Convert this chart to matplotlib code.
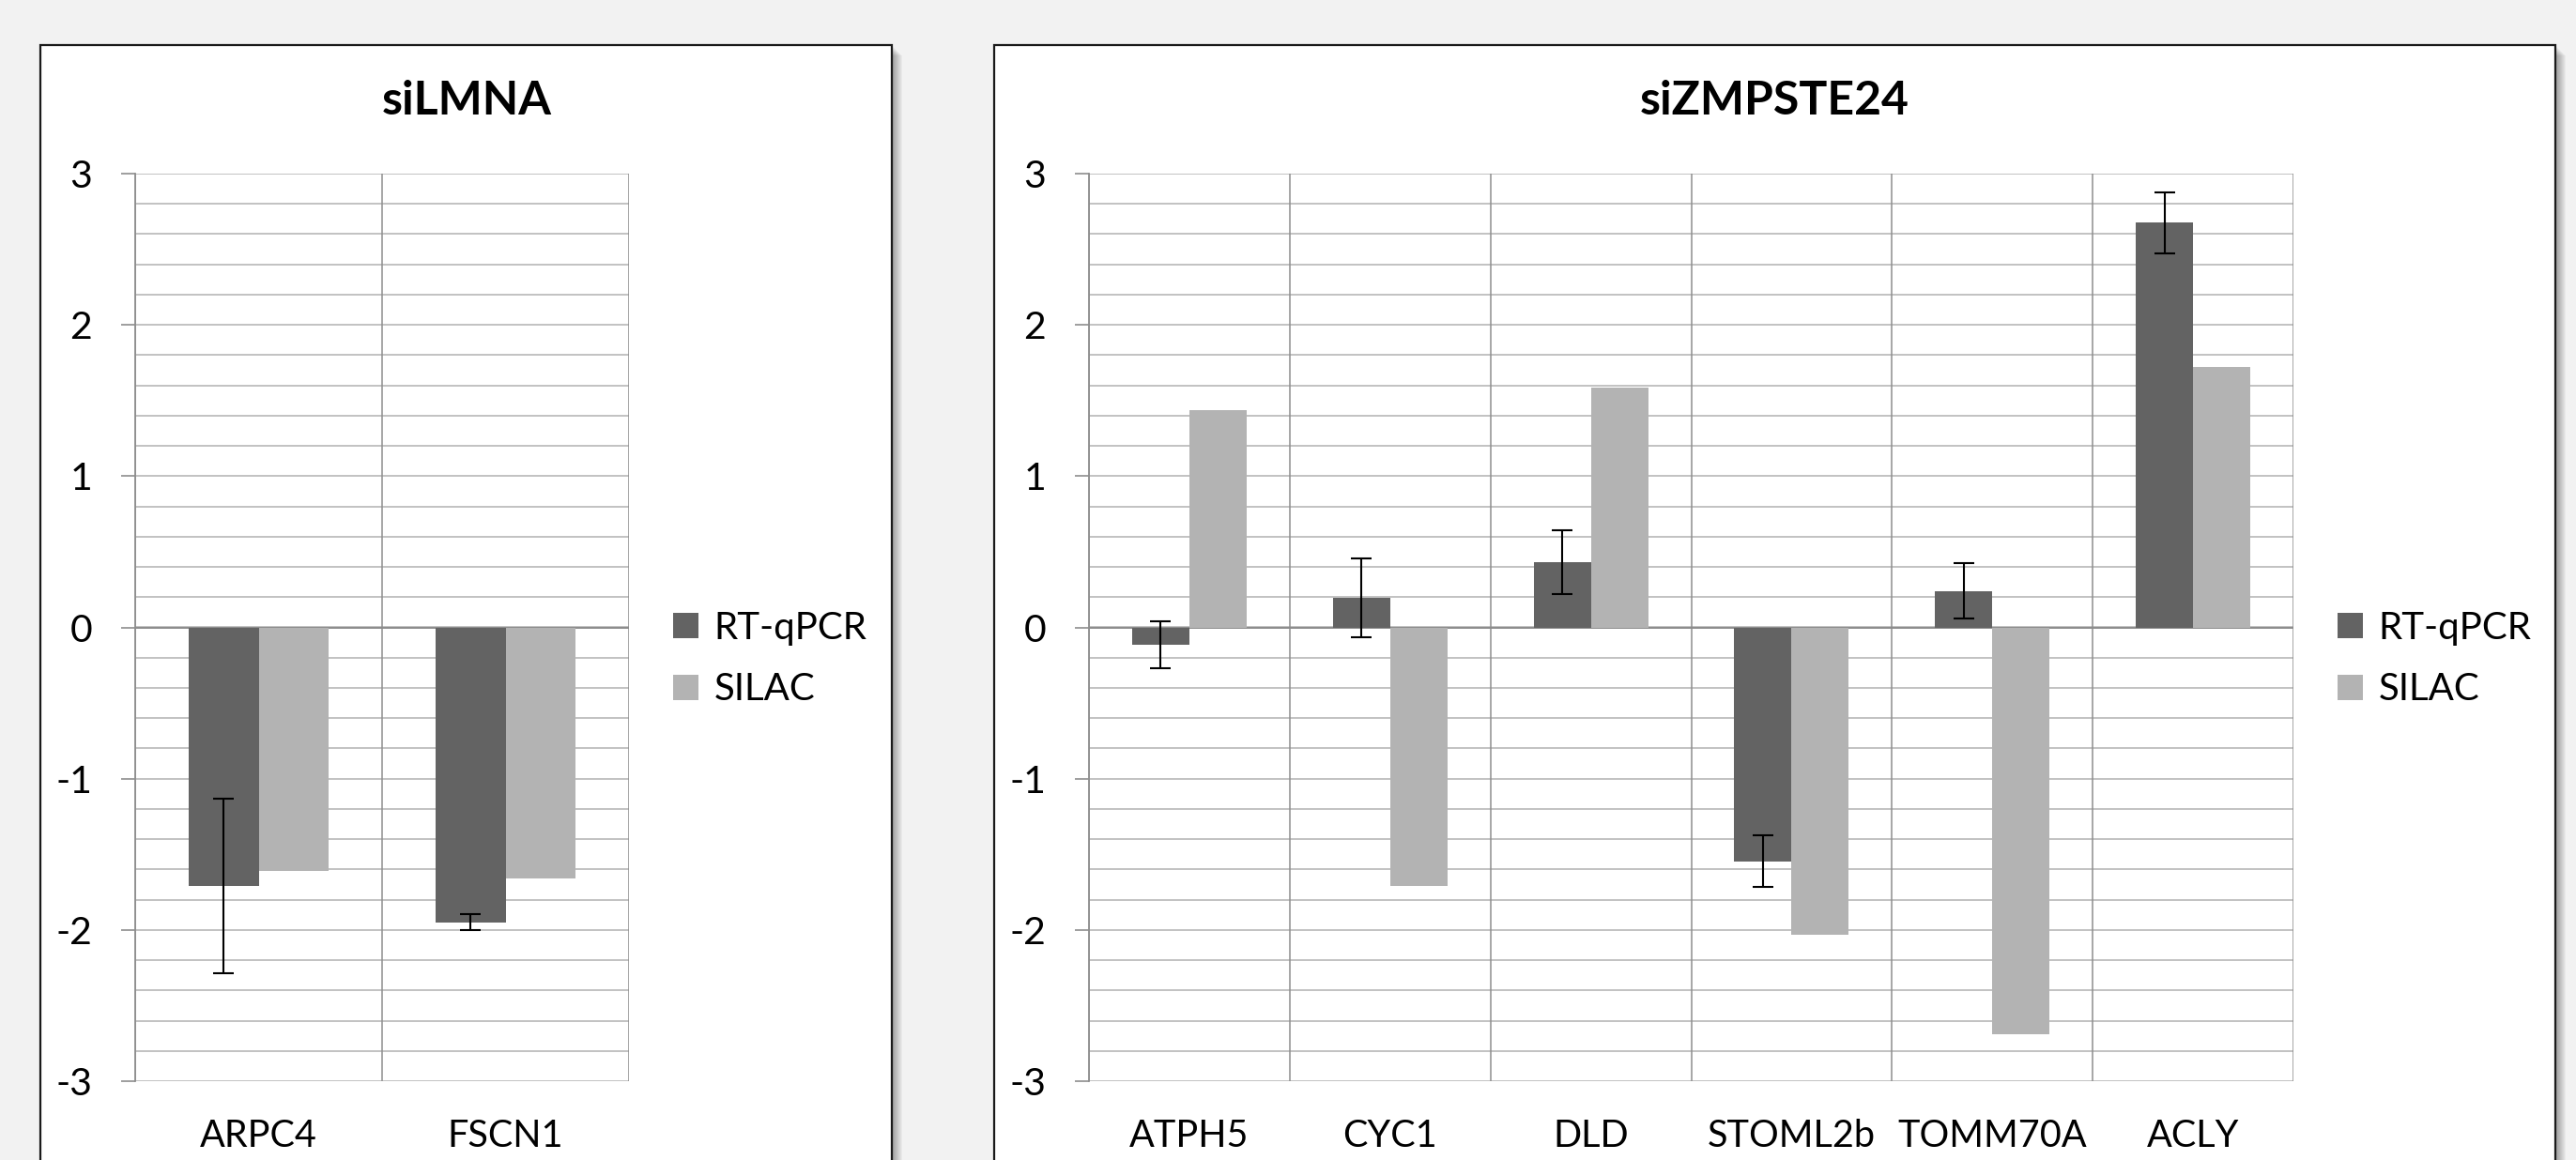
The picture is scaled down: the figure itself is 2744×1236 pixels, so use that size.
import matplotlib
matplotlib.use("Agg")
import matplotlib.pyplot as plt
from matplotlib.patches import Rectangle
import numpy as np

plt.rcParams['font.family'] = ['Lato', 'DejaVu Sans']

# dados
series = ['RT-qPCR', 'SILAC']

cat_lmna = ['ARPC4', 'FSCN1']
rtq_lmna = [-1.71, -1.95]
rtq_lmna_err = [0.575, 0.052]
silac_lmna = [-1.61, -1.66]

cat_zmp = ['ATPH5', 'CYC1', 'DLD', 'STOML2b', 'TOMM70A', 'ACLY']
rtq_zmp = [-0.115, 0.195, 0.43, -1.545, 0.24, 2.675]
rtq_zmp_err = [0.157, 0.258, 0.21, 0.172, 0.184, 0.2]
silac_zmp = [1.435, -1.71, 1.587, -2.035, -2.687, 1.723]

W, H = 2744, 1236
fig = plt.figure(figsize=(W / 100, H / 100), dpi=100)
fig.patch.set_facecolor('#F2F2F2')


def fx(p):
    return p / W


def fy(p):
    return 1 - p / H


# caixas dos paineis (com sombra)
for x0, x1 in [(43, 950), (1059, 2722)]:
    for k in range(1, 12):
        fig.patches.append(Rectangle((fx(x0 + k), fy(1300)), fx(x1 - x0), (1300 - 48 - k) / H,
                                     transform=fig.transFigure, facecolor='black',
                                     alpha=0.035, edgecolor='none', zorder=-10))
    fig.patches.append(Rectangle((fx(x0), fy(1300)), fx(x1 - x0), (1300 - 48) / H,
                                 transform=fig.transFigure, facecolor='white',
                                 edgecolor='#1a1a1a', linewidth=1.6, zorder=-5))

dark = '#636363'
light = '#B3B3B3'
w = 0.285


def painel(x_left, x_right, title, title_x, cats, rtq, err, silac):
    ax = fig.add_axes([fx(x_left), fy(1152), fx(x_right - x_left), (1152 - 185) / H])
    ax.set_facecolor('white')
    x = np.arange(len(cats))
    ax.set_xlim(-0.5, len(cats) - 0.5)
    ax.set_ylim(-3, 3)

    # grade horizontal a cada 0.2
    for v in np.arange(-3, 3.01, 0.2):
        ax.axhline(v, color='#BDBDBD', lw=1.3, zorder=0)
    # divisorias das categorias
    for v in np.arange(-0.5, len(cats), 1.0):
        ax.axvline(v, color='#8E8E8E', lw=1.1, zorder=0.5)
    ax.axhline(0, color='#8C8C8C', lw=1.4, zorder=0.6)

    ax.bar(x - w / 2, rtq, w, color=dark, label=series[0], zorder=2)
    ax.bar(x + w / 2, silac, w, color=light, label=series[1], zorder=2)
    ax.errorbar(x - w / 2, rtq, yerr=err, fmt='none', ecolor='black',
                elinewidth=1.5, capsize=8, capthick=1.5, zorder=3)

    for s in ['top', 'right', 'bottom']:
        ax.spines[s].set_visible(False)
    ax.spines['left'].set_color('#8E8E8E')
    ax.spines['left'].set_linewidth(1.3)

    ax.set_yticks([-3, -2, -1, 0, 1, 2, 3])
    ax.set_yticklabels(['-3', '-2', '-1', '0', '1', '2', '3'])
    ax.tick_params(axis='y', direction='out', length=11, width=1.2, color='#8E8E8E',
                   labelsize=29.5, pad=22)
    ax.set_xticks(x)
    ax.set_xticklabels(cats)
    ax.tick_params(axis='x', length=0, labelsize=28.5, pad=29)

    ax_w = x_right - x_left
    ax.legend(loc='center left', frameon=False, fontsize=29,
              bbox_to_anchor=((x_right + 47 - x_left) / ax_w, (1152 - 702) / 967),
              borderaxespad=0, borderpad=0, handlelength=0.68, handleheight=0.68,
              handletextpad=0.4, labelspacing=0.72)

    fig.text(fx(title_x), fy(107), title, ha='center', va='center',
             fontsize=36, fontweight='bold')
    return ax


painel(144, 670, 'siLMNA', 497, cat_lmna, rtq_lmna, rtq_lmna_err, silac_lmna)
painel(1160, 2443, 'siZMPSTE24', 1890, cat_zmp, rtq_zmp, rtq_zmp_err, silac_zmp)

plt.savefig('out.png', dpi=100, facecolor=fig.get_facecolor())
